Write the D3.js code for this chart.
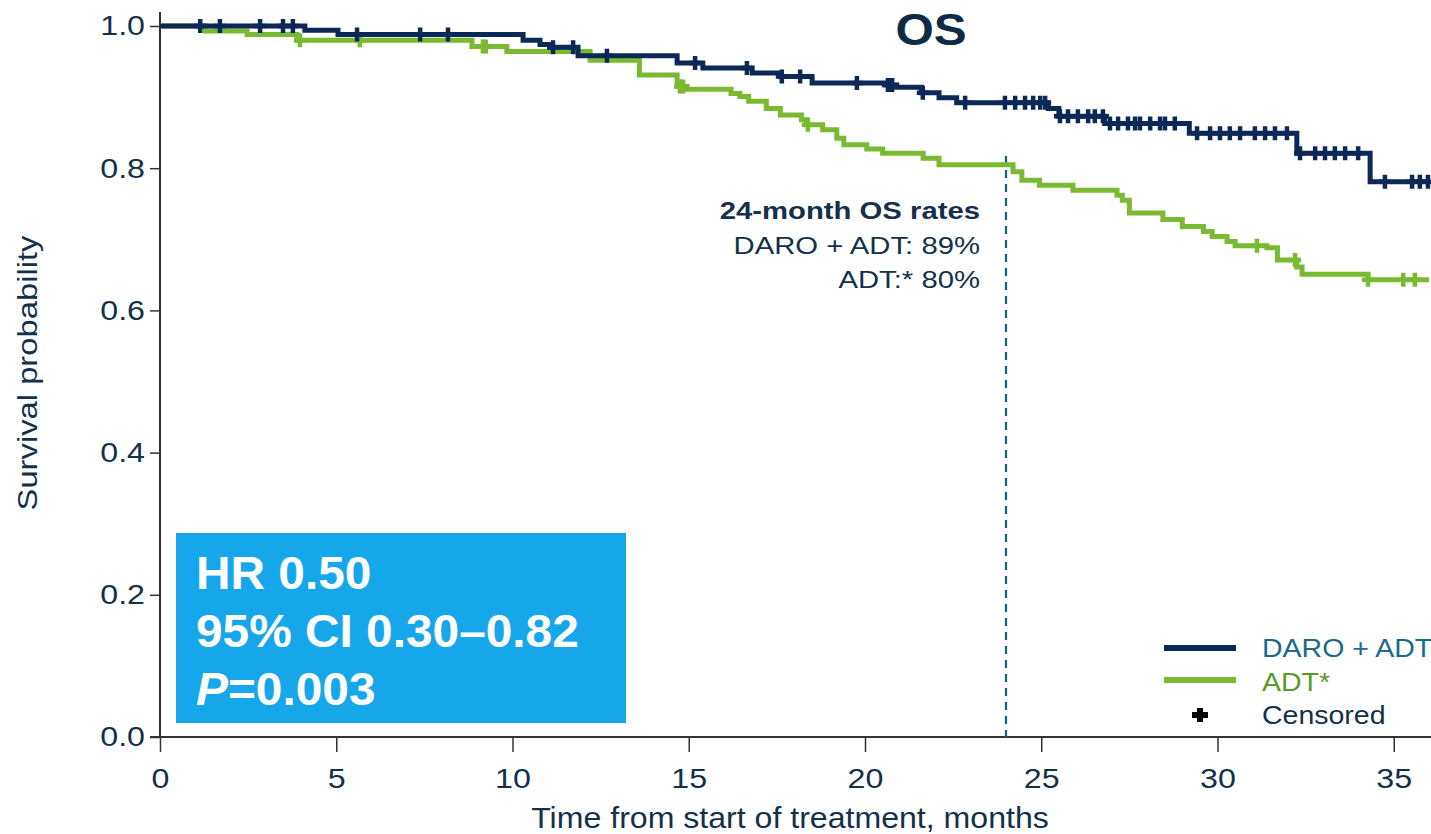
<!DOCTYPE html>
<html>
<head>
<meta charset="utf-8">
<script src="https://cdn.jsdelivr.net/npm/d3@7"></script>
<style>
  body { margin: 0; background: #fff; }
  svg { display: block; font-family: "Liberation Sans", Arial, sans-serif; }
</style>
</head>
<body>
<svg id="chart" width="1431" height="834"></svg>
<script>
// KM steps: times (months) where survival changes, and survival after each step
var daroTimes = [0, 4.11, 5.05, 10.3, 10.78, 11.06, 11.86, 14.67, 15.4, 16.8, 17.6, 18.5, 20.6, 20.9, 21.6, 22.1, 22.6, 25.2, 25.5, 26.8, 29.2, 32.25, 34.33, 36];
var daroSurv  = [1.0, 0.994, 0.988, 0.980, 0.974, 0.970, 0.958, 0.948, 0.941, 0.934, 0.929, 0.920, 0.917, 0.914, 0.906, 0.899, 0.892, 0.884, 0.873, 0.863, 0.849, 0.821, 0.781, 0.781];
var daroCensor = [1.14, 1.7, 2.84, 3.49, 3.77, 5.59, 7.38, 8.17, 11.15, 11.72, 12.68, 15.18, 16.65, 17.64, 18.16, 19.77, 20.65, 20.77, 21.64, 22.84,
  23.97, 24.26, 24.54, 24.77, 24.97, 25.11, 25.53, 25.76, 26.04, 26.33, 26.52, 26.75, 26.95, 27.18, 27.46, 27.66, 27.8, 28.09, 28.37, 28.51, 28.79,
  29.42, 29.79, 30.07, 30.35, 30.64, 31.06, 31.35, 31.63, 31.97, 32.34, 32.77, 33.05, 33.33, 33.62, 33.99, 34.75, 35.52, 35.74, 35.97];

var adtTimes = [0, 1.28, 2.47, 3.89, 8.85, 9.84, 12.2, 13.6, 14.67, 14.7, 14.95, 16.2, 16.45, 16.7, 17.2, 17.6, 18.2, 18.35, 18.8, 19.2, 19.4, 20.05, 20.5, 21.65, 22.1, 24.2, 24.45, 24.95, 25.9, 27.15, 27.3, 27.5, 28.45, 29.0, 29.6, 29.85, 30.27, 30.5, 31.4, 31.7, 32.25, 32.4, 34.27, 36];
var adtSurv  = [1.0, 0.993, 0.988, 0.980, 0.971, 0.964, 0.952, 0.931, 0.922, 0.915, 0.911, 0.905, 0.901, 0.894, 0.884, 0.875, 0.868, 0.861, 0.854, 0.842, 0.833, 0.827, 0.821, 0.814, 0.805, 0.795, 0.783, 0.776, 0.769, 0.762, 0.755, 0.737, 0.728, 0.718, 0.711, 0.704, 0.697, 0.691, 0.688, 0.671, 0.661, 0.651, 0.643, 0.643];
var adtCensor = [3.97, 5.67, 9.16, 9.24, 14.75, 14.84, 18.38, 31.12, 32.2, 34.27, 35.27, 35.6];

var xTicks = [0, 5, 10, 15, 20, 25, 30, 35];
var yTicks = [0, 0.2, 0.4, 0.6, 0.8, 1.0];
var landmark = 24;

var navy = "#0c2857", green = "#7aba33", ink = "#14304a";

var svg = d3.select("#chart");
var x = d3.scaleLinear().domain([0, 36]).range([160, 1429]);
var y = d3.scaleLinear().domain([0, 1]).range([737, 26]);

// the slide's type is a bit wider than Liberation Sans, so stretch horizontally around the anchor
function stretch(sel, sx) {
  sel.each(function () {
    var t = d3.select(this);
    var ax = +t.attr("x") || 0, ay = +t.attr("y") || 0;
    t.attr("transform", "translate(" + ax + "," + ay + ") scale(" + sx + ",1) translate(" + (-ax) + "," + (-ay) + ")");
  });
}

// axes
var xAxis = svg.append("g").attr("transform", "translate(0,737)")
  .call(d3.axisBottom(x).tickValues(xTicks).tickSize(15).tickPadding(16).tickSizeOuter(0));
xAxis.select(".domain").attr("d", "M150,0H1431").attr("stroke", "#333").attr("stroke-width", 2);
var yAxis = svg.append("g").attr("transform", "translate(160,0)")
  .call(d3.axisLeft(y).tickValues(yTicks).tickFormat(d3.format(".1f")).tickSize(10).tickPadding(5).tickSizeOuter(0));
yAxis.select(".domain").attr("d", "M0,12V737").attr("stroke", "#333").attr("stroke-width", 2);
svg.selectAll(".tick line").attr("stroke", "#333").attr("stroke-width", 1.5);
svg.selectAll(".tick text").attr("font-size", 28).attr("fill", ink).attr("font-family", "Liberation Sans, Arial, sans-serif");
stretch(svg.selectAll(".tick text"), 1.15);

var xt = svg.append("text").attr("x", 790).attr("y", 828).attr("text-anchor", "middle")
  .attr("font-size", 30).attr("fill", ink).text("Time from start of treatment, months");
stretch(xt, 1.07);
svg.append("text").attr("transform", "translate(37,373) rotate(-90) scale(1.17,1)").attr("text-anchor", "middle")
  .attr("font-size", 28).attr("fill", ink).text("Survival probability");

// landmark dashed line
svg.append("line").attr("x1", x(landmark)).attr("x2", x(landmark)).attr("y1", 156).attr("y2", 737)
  .attr("stroke", "#1a5f7a").attr("stroke-width", 2.2).attr("stroke-dasharray", "8,6");

function stepAt(times, surv, t) {
  var i = d3.bisectRight(times, t) - 1;
  return surv[Math.max(0, i)];
}

var line = d3.line().curve(d3.curveStepAfter).x(function (d) { return x(d[0]); }).y(function (d) { return y(d[1]); });

function drawArm(times, surv, censor, color) {
  svg.append("path").datum(d3.zip(times, surv)).attr("d", line)
    .attr("fill", "none").attr("stroke", color).attr("stroke-width", 5);
  svg.append("g").selectAll("path").data(censor).join("path")
    .attr("d", function (t) {
      var cx = x(t), cy = y(stepAt(times, surv, t));
      return "M" + (cx - 6) + "," + cy + "H" + (cx + 6) + "M" + cx + "," + (cy - 7) + "V" + (cy + 7);
    })
    .attr("stroke", color).attr("stroke-width", 4.5).attr("fill", "none");
}
drawArm(adtTimes, adtSurv, adtCensor, green);
drawArm(daroTimes, daroSurv, daroCensor, navy);

// title
var ttl = svg.append("text").attr("x", 931).attr("y", 45).attr("text-anchor", "middle")
  .attr("font-size", 44).attr("font-weight", "bold").attr("fill", "#0d2b45").text("OS");
stretch(ttl, 1.12);

// 24-month annotation
var ann = svg.append("g").attr("text-anchor", "end").attr("fill", ink).attr("font-size", 24);
ann.append("text").attr("x", 980).attr("y", 219).attr("font-weight", "bold").text("24-month OS rates");
ann.append("text").attr("x", 980).attr("y", 254).text("DARO + ADT: 89%");
ann.append("text").attr("x", 980).attr("y", 288).text("ADT:* 80%");
stretch(ann.selectAll("text"), 1.22);

// HR box
svg.append("rect").attr("x", 176).attr("y", 533).attr("width", 450).attr("height", 190).attr("fill", "#16a6ea");
var hr = svg.append("g").attr("fill", "#fff").attr("font-weight", "bold").attr("font-size", 46);
hr.append("text").attr("x", 196).attr("y", 589).text("HR 0.50");
hr.append("text").attr("x", 196).attr("y", 647).text("95% CI 0.30\u20130.82");
var p = hr.append("text").attr("x", 196).attr("y", 705);
p.append("tspan").attr("font-style", "italic").text("P");
p.append("tspan").text("=0.003");
stretch(hr.selectAll("text"), 1.04);

// legend
var lg = svg.append("g").attr("font-size", 25);
lg.append("line").attr("x1", 1164).attr("x2", 1236).attr("y1", 648).attr("y2", 648).attr("stroke", navy).attr("stroke-width", 6);
lg.append("line").attr("x1", 1164).attr("x2", 1236).attr("y1", 680).attr("y2", 680).attr("stroke", green).attr("stroke-width", 6);
lg.append("path").attr("d", "M1192,715H1208M1200,708V722").attr("stroke", "#000").attr("stroke-width", 6);
lg.append("text").attr("x", 1262).attr("y", 657).attr("fill", "#1a6a8a").text("DARO + ADT");
lg.append("text").attr("x", 1262).attr("y", 691).attr("fill", "#5a9a2a").text("ADT*");
lg.append("text").attr("x", 1262).attr("y", 724).attr("fill", ink).text("Censored");
stretch(lg.selectAll("text"), 1.14);
</script>
</body>
</html>
